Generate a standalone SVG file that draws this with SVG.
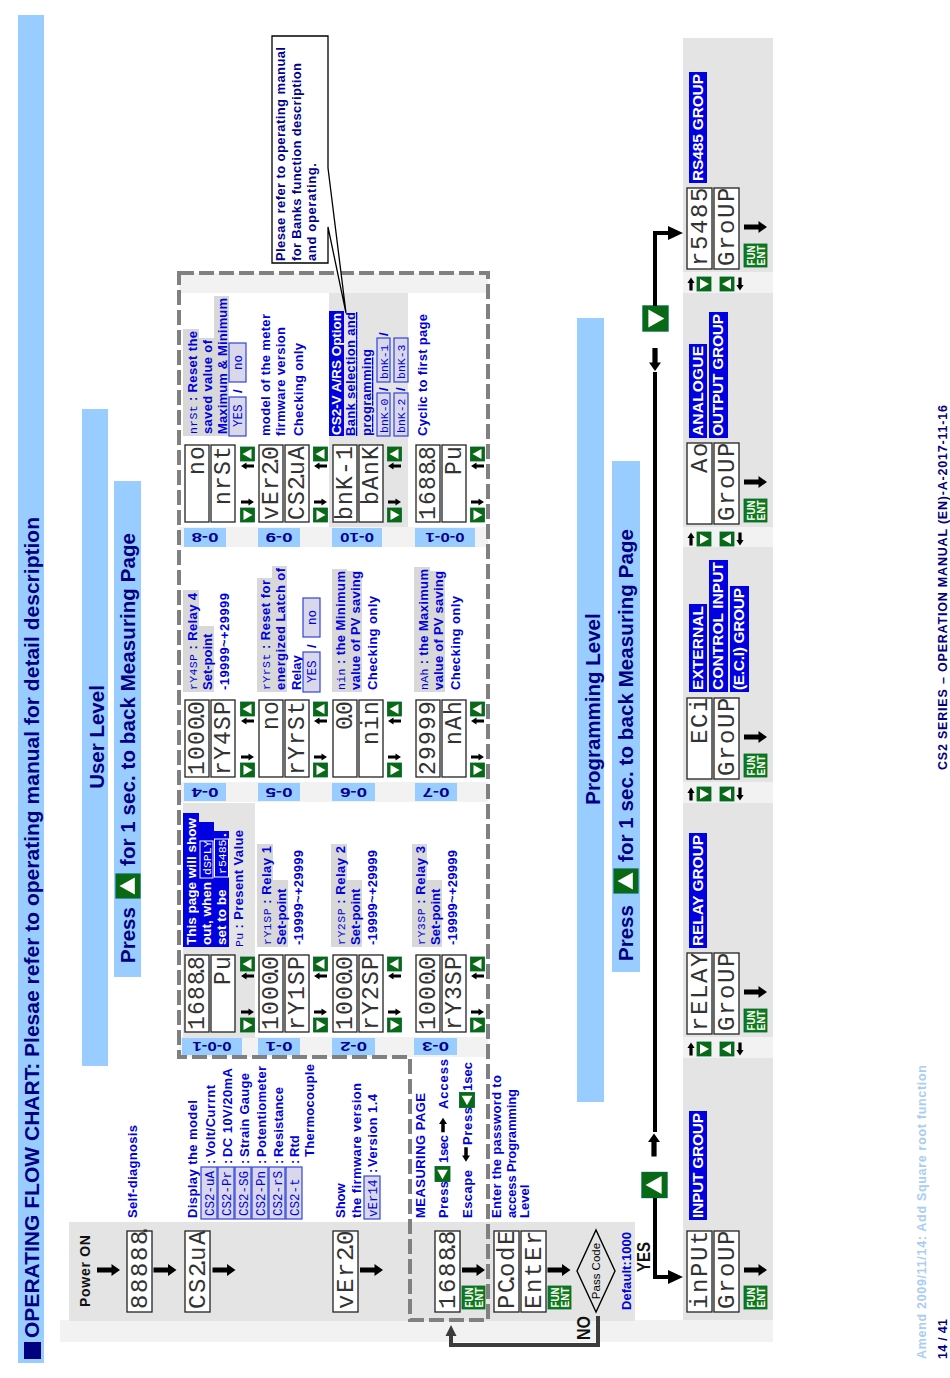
<svg xmlns="http://www.w3.org/2000/svg" width="950" height="1378" viewBox="0 0 950 1378">
<style>
text{font-family:"Liberation Sans",Arial,sans-serif;font-weight:bold}
.t{font-size:13px;fill:#0000dd}
.w{font-size:13.5px;fill:#fff}
.gl{font-size:15.5px;fill:#fff}
.h{font-size:20.5px;fill:#000080}
.n{font-size:13px;fill:#000090}
.k{font-size:17.5px;fill:#111}
.led{font-family:"Liberation Mono",monospace;font-weight:normal;font-size:24px;fill:#333}
.led2{font-family:"Liberation Mono",monospace;font-weight:normal;font-size:23px;fill:#333}
.ls{font-family:"Liberation Mono",monospace;font-weight:normal;font-size:11.5px}
.bx{font-family:"Liberation Mono",monospace;font-weight:normal;font-size:12.5px;fill:#0000dd}
.lb{font-size:13px;fill:#000090;text-anchor:middle}
.dd{fill:#fff;stroke:#222;stroke-width:1.3}
.g{fill:#e4e4e4}.l{fill:#f2f2f2}.sb{fill:#99ccff}.gb{fill:#d8d8d8}.bl{fill:#0000e0}
.box{fill:#d8d8ea;stroke:#3344dd;stroke-width:1.2}
.btn{fill:#0a6a14;stroke:#063;stroke-width:.8}
.tri{fill:#fff}
.k4{fill:none;stroke:#000;stroke-width:4}
.g4{fill:none;stroke:#3c3c3c;stroke-width:4}
</style>
<defs>
<rect id="d" class="dd" width="81" height="25"/>
<rect id="e" class="dd" width="77" height="24"/>
<g id="bu"><rect class="btn" x="-7" y="-7" width="14" height="14"/><polygon class="tri" points="-5,4 5,4 0,-5"/></g>
<g id="bd"><rect class="btn" x="-7" y="-7" width="14" height="14"/><polygon class="tri" points="-5,-4 5,-4 0,5"/></g>
<g id="bl"><rect class="btn" x="-7" y="-7" width="14" height="14"/><polygon class="tri" points="4,-5 4,5 -5,0"/></g>
<polygon id="sa" points="-1.6,-6.5 1.6,-6.5 1.6,1 3.6,1 0,6.5 -3.6,1 -1.6,1"/>
<polygon id="ba" points="-2.6,-11.5 2.6,-11.5 2.6,3 6,3 0,11.5 -6,3 -2.6,3"/>
<g id="nav"><use href="#bu" x="68"/><use href="#bd" x="7"/><use href="#sa" transform="translate(56,0) rotate(180)"/><use href="#sa" transform="translate(20,0)"/></g>
<g id="gnav"><use href="#sa" transform="translate(0,691) rotate(-90)"/><use href="#bd" y="704"/><use href="#bu" y="727"/><use href="#sa" transform="translate(0,740) rotate(90)"/></g>
<g id="fe"><rect width="23" height="23" fill="#0f7a1a" stroke="#063" stroke-width=".8"/><text x="1.5" y="10.5" font-size="10.5" fill="#fff" textLength="20" lengthAdjust="spacingAndGlyphs">FUN</text><text x="1.5" y="21" font-size="10.5" fill="#fff" textLength="20" lengthAdjust="spacingAndGlyphs">ENT</text></g>
</defs>
<g id="page" transform="matrix(0 -1 1 0 0 1378)">
<g id="backgrounds">
<rect class="l" x="36" y="60" width="22" height="713"/>
<rect class="g" x="57" y="69" width="99" height="566"/>
<rect class="g" x="58" y="683" width="262" height="90"/>
<rect class="l" x="320" y="683" width="21" height="90"/>
<rect class="g" x="341" y="683" width="234" height="90"/>
<rect class="l" x="575" y="683" width="21" height="90"/>
<rect class="g" x="596" y="683" width="235" height="90"/>
<rect class="l" x="831" y="683" width="20" height="90"/>
<rect class="g" x="851" y="683" width="234" height="90"/>
<rect class="l" x="1085" y="683" width="21" height="90"/>
<rect class="g" x="1106" y="683" width="234" height="90"/>
<rect class="l" x="321" y="179" width="20" height="309"/>
<rect class="l" x="576" y="179" width="20" height="309"/>
<rect class="l" x="831" y="179" width="20" height="309"/>
<rect class="l" x="1085" y="179" width="20" height="309"/>
<rect class="g" x="340" y="183" width="235" height="72"/>
<rect class="g" x="851" y="329" width="234" height="79"/>
</g>
<g id="title">
<rect class="sb" x="15" y="18" width="1348" height="26"/>
<rect x="19" y="24" width="17" height="17" fill="#000080"/>
<text x="40" y="39" font-size="21" fill="#000080" textLength="821">OPERATING FLOW CHART: Plesae refer to operating manual for detail description</text>
</g>
<g id="user-level">
<rect class="sb" x="312" y="82" width="657" height="26"/>
<text class="h" x="641" y="104" text-anchor="middle" font-size="21">User Level</text>
</g>
<g id="press-user">
<rect class="sb" x="401" y="114" width="496" height="27"/>
<text class="h" x="415" y="135">Press</text>
<use href="#bu" transform="translate(492,128) scale(1.7)"/>
<text class="h" x="512" y="135" textLength="333">for 1 sec. to back Measuring Page</text>
</g>
<g id="programming-level">
<rect class="sb" x="276" y="577" width="784" height="27"/>
<text class="h" x="669" y="600" text-anchor="middle">Programming Level</text>
</g>
<g id="press-prog">
<rect class="sb" x="406" y="612" width="511" height="28"/>
<text class="h" x="417" y="633">Press</text>
<use href="#bu" transform="translate(497,626) scale(1.7)"/>
<text class="h" x="516" y="633" textLength="333">for 1 sec. to back Measuring Page</text>
</g>
<path id="dashed-frame" d="M1105,179V488H58V410H321V179Z" fill="none" stroke="#808080" stroke-width="4" stroke-dasharray="15 5"/>

<g id="power-on"><text x="71" y="90" font-size="14" fill="#111" textLength="72">Power ON</text><use href="#ba" transform="translate(108,108.5)" fill="#000"/></g>
<g id="self-diag"><use href="#d" transform="translate(66,127)"/><text class="led" transform="translate(66,127)" x="3 19 35 51 67 74" y="20">88888.</text><use href="#ba" transform="translate(108,165)"/><text class="t" x="160" y="137" font-size="13.5" textLength="93">Self-diagnosis</text></g>
<g id="model">
<use href="#d" transform="translate(66,185)"/><text class="led" transform="translate(66,185)" x="3 19 35 42 51 67" y="20">CS2.uA</text><use href="#ba" transform="translate(108,224)"/>
<text class="t" x="160" y="197" textLength="118">Display the model</text>
<rect class="box" x="159" y="201" width="52" height="16"/><text class="bx" x="162" y="214">CS2-uA</text><text class="t" x="214" y="215">:</text><text class="t" x="221" y="215" textLength="72">Volt/Currnt</text>
<rect class="box" x="159" y="218" width="52" height="16"/><text class="bx" x="162" y="231">CS2-Pr</text><text class="t" x="214" y="232">:</text><text class="t" x="221" y="232" textLength="89">DC 10V/20mA</text>
<rect class="box" x="159" y="235" width="52" height="16"/><text class="bx" x="162" y="248">CS2-SG</text><text class="t" x="214" y="249">:</text><text class="t" x="221" y="249" textLength="84">Strain Gauge</text>
<rect class="box" x="159" y="252" width="52" height="16"/><text class="bx" x="162" y="265">CS2-Pn</text><text class="t" x="214" y="266">:</text><text class="t" x="221" y="266" textLength="91">Potentiometer</text>
<rect class="box" x="159" y="269" width="52" height="16"/><text class="bx" x="162" y="282">CS2-rS</text><text class="t" x="214" y="283">:</text><text class="t" x="221" y="283" textLength="70">Resistance</text>
<rect class="box" x="159" y="286" width="52" height="16"/><text class="bx" x="162" y="299">CS2-t</text><text class="t" x="214" y="299">:</text><text class="t" x="221" y="299">Rtd</text>
<text class="t" x="221" y="314" textLength="93">Thermocouple</text>
</g>
<g id="firmware">
<use href="#d" transform="translate(66,333)"/><text class="led" transform="translate(66,333)" x="3 19 35 51 58 67" y="20">vEr2.0</text><use href="#ba" transform="translate(108,371.5)"/>
<text class="t" x="160" y="345">Show</text><text class="t" x="160" y="361" textLength="135">the firmware version</text>
<rect class="box" x="159" y="364" width="43" height="16"/><text class="bx" x="161" y="377">vEr14</text><text class="t" x="205" y="377">:</text><text class="t" x="211" y="377" textLength="73">Version 1.4</text>
</g>
<g id="measuring">
<use href="#d" transform="translate(66,435)"/><text class="led" transform="translate(66,435)" x="3 19 35 51 58 67" y="20">1688.8</text><use href="#ba" transform="translate(108,473.5)"/><use href="#fe" x="69" y="462"/>
<text class="t" x="160" y="425" textLength="125">MEASURING PAGE</text>
<text class="t" x="160" y="448" textLength="37">Press</text><use href="#bl" transform="translate(204,442.5) scale(1.07)"/><text class="t" x="215" y="448" textLength="28">1sec</text><use href="#sa" transform="translate(253,443) rotate(-90) scale(1.1)"/><text class="t" x="269" y="448" textLength="50">Access</text>
<text class="t" x="160" y="472" textLength="48">Escape</text><use href="#sa" transform="translate(223.5,466) rotate(90) scale(1.1)"/><text class="t" x="233" y="472" textLength="38">Press</text><use href="#bl" transform="translate(278,467) scale(1.07)"/><text class="t" x="287" y="472" textLength="29">1sec</text>
</g>
<g id="passcode">
<use href="#d" transform="translate(66,494)"/><text class="led" transform="translate(66,494)" x="3 19 26 35 51 67" y="20">PC.odE</text>
<use href="#d" transform="translate(66,521)"/><text class="led" transform="translate(66,521)" x="3 19 35 51 67" y="20">EntEr</text>
<use href="#ba" transform="translate(108,559)"/><use href="#fe" x="69" y="548"/>
<text class="t" x="160" y="501" textLength="143">Enter the password to</text><text class="t" x="160" y="516" textLength="129">access Programming</text><text class="t" x="160" y="529">Level</text>
</g>
<g id="decision">
<polygon points="66,596 107,577 148,596 107,615" fill="none" stroke="#000" stroke-width="1.4"/>
<text x="107" y="600" font-size="11.5" style="font-weight:normal" fill="#000" text-anchor="middle">Pass Code</text>
<text class="t" x="68" y="631" textLength="78">Default:1000</text>
<text class="k" x="106" y="650" textLength="30" lengthAdjust="spacingAndGlyphs">YES</text>
<text class="k" x="38" y="590" textLength="24" lengthAdjust="spacingAndGlyphs">NO</text>
</g>

<g id="connectors">
<path class="g4" d="M62,598H33V451H43"/>
<polygon points="53,451 42,445.5 42,456.5" fill="#3c3c3c"/>
<path class="k4" d="M180,655H101V670"/>
<polygon points="101,683 94,668 108,668"/>
<use href="#bu" transform="translate(193,654.5) scale(1.78)"/>
<use href="#ba" transform="translate(233,654) rotate(-90)"/>
<path class="k4" d="M246,655H1006"/>
<use href="#ba" transform="translate(1018.5,655) rotate(90)"/>
<use href="#bd" transform="translate(1059.5,655.5) scale(1.78)"/>
<path class="k4" d="M1072,655H1145V670"/>
<polygon points="1145,683 1138,668 1152,668"/>
</g>

<g id="input-group">
<use href="#d" x="66" y="687"/><text class="led" x="69 85 101 117 133" y="707">inPUt</text>
<use href="#d" x="66" y="714"/><text class="led" x="69 85 101 117 133" y="734">GroUP</text>
<use href="#ba" transform="translate(108,755.5)"/><use href="#fe" x="69" y="744"/>
<rect class="bl" x="158" y="689" width="109" height="18"/><text class="gl" x="160" y="703" textLength="105">INPUT GROUP</text>
<use href="#gnav" x="329"/>
</g>
<g id="relay-group">
<use href="#d" x="344" y="687"/><text class="led" x="347 363 379 395 411" y="707">rELAY</text>
<use href="#d" x="344" y="714"/><text class="led" x="347 363 379 395 411" y="734">GroUP</text>
<use href="#ba" transform="translate(386,755.5)"/><use href="#fe" x="346" y="744"/>
<rect class="bl" x="430" y="689" width="115" height="18"/><text class="gl" x="432" y="703" textLength="111">RELAY GROUP</text>
<use href="#gnav" x="584"/>
</g>
<g id="eci-group">
<use href="#d" x="599" y="687"/><text class="led" x="634 650 666" y="707">ECi</text>
<use href="#d" x="599" y="714"/><text class="led" x="602 618 634 650 666" y="734">GroUP</text>
<use href="#ba" transform="translate(641,755.5)"/><use href="#fe" x="601" y="744"/>
<rect class="bl" x="686" y="689" width="88" height="18"/><text class="gl" x="688" y="703" textLength="84">EXTERNAL</text>
<rect class="bl" x="686" y="709" width="132" height="19"/><text class="gl" x="688" y="723" textLength="128">CONTROL INPUT</text>
<rect class="bl" x="686" y="730" width="106" height="19"/><text class="gl" x="688" y="744" textLength="102">(E.C.I) GROUP</text>
<use href="#gnav" x="839"/>
</g>
<g id="ao-group">
<use href="#d" x="854" y="687"/><text class="led" x="905 921" y="707">Ao</text>
<use href="#d" x="854" y="714"/><text class="led" x="857 873 889 905 921" y="734">GroUP</text>
<use href="#ba" transform="translate(896,755.5)"/><use href="#fe" x="856" y="744"/>
<rect class="bl" x="940" y="689" width="94" height="18"/><text class="gl" x="942" y="703" textLength="90">ANALOGUE</text>
<rect class="bl" x="940" y="709" width="126" height="19"/><text class="gl" x="942" y="723" textLength="122">OUTPUT GROUP</text>
<use href="#gnav" x="1094"/>
</g>
<g id="rs485-group">
<use href="#d" x="1109" y="687"/><text class="led" x="1112 1128 1144 1160 1176" y="707">r5485</text>
<use href="#d" x="1109" y="714"/><text class="led" x="1112 1128 1144 1160 1176" y="734">GroUP</text>
<use href="#ba" transform="translate(1151,755.5)"/><use href="#fe" x="1111" y="744"/>
<rect class="bl" x="1195" y="689" width="111" height="18"/><text class="gl" x="1197" y="703" textLength="107">RS485 GROUP</text>
</g>

<g id="labels">
<rect class="sb" x="323" y="182" width="17" height="60"/><text class="lb" transform="translate(336,212) rotate(-90)" textLength="39" lengthAdjust="spacingAndGlyphs">0-0-1</text>
<rect class="sb" x="323" y="258" width="17" height="42"/><text class="lb" transform="translate(336,279) rotate(-90)" textLength="27" lengthAdjust="spacingAndGlyphs">0-1</text>
<rect class="sb" x="323" y="332" width="17" height="43"/><text class="lb" transform="translate(336,353.5) rotate(-90)" textLength="27" lengthAdjust="spacingAndGlyphs">0-2</text>
<rect class="sb" x="323" y="414" width="17" height="43"/><text class="lb" transform="translate(336,435.5) rotate(-90)" textLength="27" lengthAdjust="spacingAndGlyphs">0-3</text>
<rect class="sb" x="577" y="184" width="18" height="42"/><text class="lb" transform="translate(590,205) rotate(-90)" textLength="27" lengthAdjust="spacingAndGlyphs">0-4</text>
<rect class="sb" x="577" y="258" width="18" height="42"/><text class="lb" transform="translate(590,279) rotate(-90)" textLength="27" lengthAdjust="spacingAndGlyphs">0-5</text>
<rect class="sb" x="577" y="332" width="18" height="43"/><text class="lb" transform="translate(590,353.5) rotate(-90)" textLength="27" lengthAdjust="spacingAndGlyphs">0-6</text>
<rect class="sb" x="577" y="415" width="18" height="42"/><text class="lb" transform="translate(590,436) rotate(-90)" textLength="27" lengthAdjust="spacingAndGlyphs">0-7</text>
<rect class="sb" x="831" y="184" width="19" height="42"/><text class="lb" transform="translate(845,205) rotate(-90)" textLength="27" lengthAdjust="spacingAndGlyphs">0-8</text>
<rect class="sb" x="831" y="258" width="19" height="42"/><text class="lb" transform="translate(845,279) rotate(-90)" textLength="27" lengthAdjust="spacingAndGlyphs">0-9</text>
<rect class="sb" x="831" y="332" width="19" height="50"/><text class="lb" transform="translate(845,357) rotate(-90)" textLength="34" lengthAdjust="spacingAndGlyphs">0-10</text>
<rect class="sb" x="831" y="415" width="19" height="60"/><text class="lb" transform="translate(845,445) rotate(-90)" textLength="39" lengthAdjust="spacingAndGlyphs">0-0-1</text>
</g>

<g id="card-pv">
<use href="#e" x="346" y="185"/><text class="led2" x="348 363 378 393 400 408" y="204">1688.8</text>
<use href="#e" x="346" y="211"/><text class="led2" x="393 408" y="230">Pu</text>
<use href="#nav" transform="translate(346,247.5)"/>
<rect class="bl" x="431" y="183" width="134" height="16"/><text class="w" x="433" y="196" textLength="127">This page will show</text>
<rect class="bl" x="431" y="199" width="125" height="15"/><text class="w" x="433" y="211">out, when</text><rect x="500" y="200" width="37" height="13" fill="none" stroke="#fff"/><text class="ls" x="503" y="211" style="fill:#fff">dSPLY</text>
<rect class="bl" x="431" y="214" width="116" height="15"/><text class="w" x="433" y="226">set to be</text><rect x="501" y="214.5" width="38" height="14" fill="none" stroke="#fff"/><text class="ls" x="504" y="226" style="fill:#fff">r5485</text><text class="w" x="541" y="226">.</text>
<text class="t" x="431" y="243" textLength="117"><tspan class="ls">Pu</tspan> : Present Value</text>
</g>
<g id="card-r1">
<use href="#e" x="346" y="259"/><text class="led2" x="348 363 378 393 400 408" y="278">1000.0</text>
<use href="#e" x="346" y="285"/><text class="led2" x="348 363 378 393 408" y="304">rY1SP</text>
<use href="#nav" transform="translate(346,320.5)"/>
<rect class="gb" x="431" y="257" width="103" height="16"/><rect class="gb" x="431" y="273" width="67" height="15"/>
<text class="t" x="433" y="271" textLength="99"><tspan class="ls">rY1SP</tspan> : Relay 1</text><text class="t" x="433" y="286">Set-point</text><text class="t" x="433" y="303" textLength="95">-19999~+29999</text>
</g>
<g id="card-r2">
<use href="#e" x="346" y="333"/><text class="led2" x="348 363 378 393 400 408" y="352">1000.0</text>
<use href="#e" x="346" y="359"/><text class="led2" x="348 363 378 393 408" y="378">rY2SP</text>
<use href="#nav" transform="translate(346,394.5)"/>
<rect class="gb" x="431" y="331" width="103" height="16"/><rect class="gb" x="431" y="347" width="67" height="15"/>
<text class="t" x="433" y="345" textLength="99"><tspan class="ls">rY2SP</tspan> : Relay 2</text><text class="t" x="433" y="360">Set-point</text><text class="t" x="433" y="377" textLength="95">-19999~+29999</text>
</g>
<g id="card-r3">
<use href="#e" x="346" y="416"/><text class="led2" x="348 363 378 393 400 408" y="435">1000.0</text>
<use href="#e" x="346" y="442"/><text class="led2" x="348 363 378 393 408" y="461">rY3SP</text>
<use href="#nav" transform="translate(346,477.5)"/>
<rect class="gb" x="431" y="412" width="103" height="15"/><rect class="gb" x="431" y="427" width="67" height="15"/>
<text class="t" x="433" y="425" textLength="99"><tspan class="ls">rY3SP</tspan> : Relay 3</text><text class="t" x="433" y="440">Set-point</text><text class="t" x="433" y="457" textLength="95">-19999~+29999</text>
</g>

<g id="card-r4">
<use href="#e" x="601" y="185"/><text class="led2" x="603 618 633 648 655 663" y="204">1000.0</text>
<use href="#e" x="601" y="211"/><text class="led2" x="603 618 633 648 663" y="230">rY4SP</text>
<use href="#nav" transform="translate(601,247.5)"/>
<rect class="gb" x="686" y="183" width="102" height="16"/><rect class="gb" x="686" y="199" width="66" height="15"/>
<text class="t" x="688" y="197" textLength="97"><tspan class="ls">rY4SP</tspan> : Relay 4</text><text class="t" x="688" y="212">Set-point</text><text class="t" x="688" y="229" textLength="97">-19999~+29999</text>
</g>
<g id="card-latch">
<use href="#e" x="601" y="259"/><text class="led2" x="648 663" y="278">no</text>
<use href="#e" x="601" y="285"/><text class="led2" x="603 618 633 648 663" y="304">rYrSt</text>
<use href="#nav" transform="translate(601,320.5)"/>
<rect class="gb" x="686" y="257" width="114" height="15"/><rect class="gb" x="686" y="272" width="126" height="15"/>
<text class="t" x="688" y="270" textLength="110"><tspan class="ls">rYrSt</tspan> : Reset for</text><text class="t" x="688" y="285" textLength="122">energized Latch of</text><text class="t" x="688" y="301">Relay</text>
<rect class="box" x="686" y="303" width="40" height="17"/><text class="bx" x="695" y="316">YES</text><text class="t" x="730" y="316">/</text>
<rect class="box" x="741" y="303" width="39" height="17"/><text class="bx" x="753" y="316">no</text>
</g>
<g id="card-min">
<use href="#e" x="601" y="333"/><text class="led2" x="648 655 663" y="352">0.0</text>
<use href="#e" x="601" y="359"/><text class="led2" x="633 648 663" y="378">nin</text>
<use href="#nav" transform="translate(601,394.5)"/>
<rect class="gb" x="686" y="332" width="123" height="15"/><rect class="gb" x="686" y="347" width="121" height="15"/>
<text class="t" x="688" y="345" textLength="119"><tspan class="ls">nin</tspan> : the Minimum</text><text class="t" x="688" y="360" textLength="119">value of PV saving</text><text class="t" x="688" y="377" textLength="94">Checking only</text>
</g>
<g id="card-max">
<use href="#e" x="601" y="416"/><text class="led2" x="603 618 633 648 663" y="435">29999</text>
<use href="#e" x="601" y="442"/><text class="led2" x="633 648 663" y="461">nAh</text>
<use href="#nav" transform="translate(601,477.5)"/>
<rect class="gb" x="686" y="414" width="125" height="16"/><rect class="gb" x="686" y="430" width="121" height="15"/>
<text class="t" x="688" y="428" textLength="121"><tspan class="ls">nAh</tspan> : the Maximum</text><text class="t" x="688" y="443" textLength="119">value of PV saving</text><text class="t" x="688" y="460" textLength="94">Checking only</text>
</g>

<g id="card-reset">
<use href="#e" x="856" y="185"/><text class="led2" x="903 918" y="204">no</text>
<use href="#e" x="856" y="211"/><text class="led2" x="873 888 903 918" y="230">nrSt</text>
<use href="#nav" transform="translate(856,247.5)"/>
<rect class="gb" x="942" y="183" width="107" height="16"/><rect class="gb" x="942" y="199" width="98" height="15"/><rect class="gb" x="942" y="214" width="140" height="15"/>
<text class="t" x="944" y="197" textLength="103"><tspan class="ls">nrSt</tspan> : Reset the</text><text class="t" x="944" y="212" textLength="94">saved value of</text><text class="t" x="944" y="227" textLength="136">Maximum &amp; Minimum</text>
<rect class="box" x="942" y="229" width="39" height="17"/><text class="bx" x="951" y="242">YES</text><text class="t" x="985" y="242">/</text>
<rect class="box" x="996" y="229" width="39" height="17"/><text class="bx" x="1008" y="242">no</text>
</g>
<g id="card-version">
<use href="#e" x="856" y="259"/><text class="led2" x="858 873 888 903 910 918" y="278">vEr2.0</text>
<use href="#e" x="856" y="285"/><text class="led2" x="858 873 888 895 903 918" y="304">CS2.uA</text>
<use href="#nav" transform="translate(856,320.5)"/>
<text class="t" x="942" y="270" textLength="122">model of the meter</text><text class="t" x="942" y="285" textLength="109">firmware version</text><text class="t" x="942" y="303" textLength="93">Checking only</text>
</g>
<g id="card-bank">
<use href="#e" x="856" y="333"/><text class="led2" x="858 873 888 903 918" y="352">bnK-1</text>
<use href="#e" x="856" y="359"/><text class="led2" x="873 888 903 918" y="378">bAnK</text>
<use href="#nav" transform="translate(856,394.5)"/>
<rect class="bl" x="942" y="329" width="125" height="15"/><text class="w" x="943" y="341" textLength="122">CS2-V A/RS Option</text>
<text class="t" x="942" y="355" textLength="124" text-decoration="underline">Bank selection and</text><text class="t" x="942" y="371" textLength="87" text-decoration="underline">programming</text>
<rect class="box" x="942" y="377" width="43" height="13"/><text class="bx" x="945" y="388" style="font-size:11.5px">bnK-0</text><text class="t" x="987" y="388">/</text>
<rect class="box" x="996" y="377" width="44" height="13"/><text class="bx" x="999" y="388" style="font-size:11.5px">bnK-1</text><text class="t" x="1042" y="388">/</text>
<rect class="box" x="942" y="394" width="43" height="14"/><text class="bx" x="945" y="405" style="font-size:11.5px">bnK-2</text><text class="t" x="987" y="405">/</text>
<rect class="box" x="996" y="394" width="44" height="14"/><text class="bx" x="999" y="405" style="font-size:11.5px">bnK-3</text>
</g>
<g id="card-cyclic">
<use href="#e" x="856" y="416"/><text class="led2" x="858 873 888 903 910 918" y="435">1688.8</text>
<use href="#e" x="856" y="442"/><text class="led2" x="903 918" y="461">Pu</text>
<use href="#nav" transform="translate(856,477.5)"/>
<text class="t" x="942" y="427" textLength="122">Cyclic to first page</text>
</g>

<g id="callout">
<path d="M1342,272V328H1210L1065,346L1151,328H1115V272Z" fill="#fff" stroke="#000" stroke-width="1.3"/>
<text class="n" x="1117" y="285" textLength="214">Plesae refer to operating manual</text>
<text class="n" x="1117" y="301" textLength="198">for Banks function description</text>
<text class="n" x="1117" y="316" textLength="98">and operating.</text>
</g>
<g id="footer">
<text x="19" y="926" font-size="12.5" fill="#a9cdf3" textLength="294">Amend 2009/11/14: Add Square root function</text>
<text x="19" y="947" font-size="12.5" fill="#000080" textLength="40">14 / 41</text>
<text x="608" y="947" font-size="12.5" fill="#000080" textLength="365">CS2 SERIES – OPERATION MANUAL (EN)-A-2017-11-16</text>
</g>
</g>
</svg>
